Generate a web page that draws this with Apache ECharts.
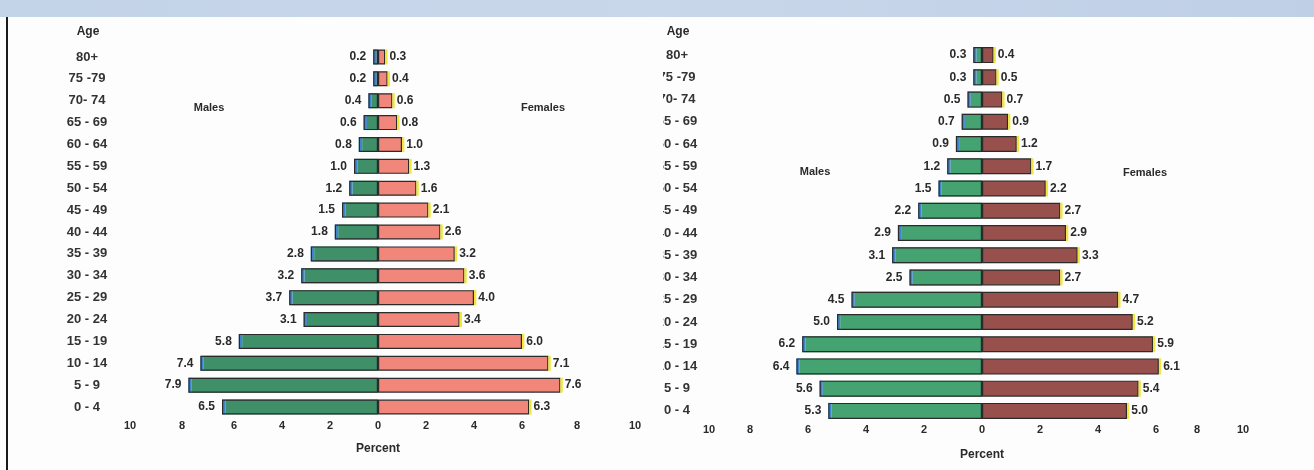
<!DOCTYPE html>
<html><head><meta charset="utf-8">
<script src="https://cdn.jsdelivr.net/npm/echarts@6/dist/echarts.min.js"></script>
<style>html,body{margin:0;padding:0;background:#fff}#c{width:1314px;height:470px}</style>
</head><body><div id="c"></div>
<script>
// ---- data ----
const ageGroups = ["80+", "75 -79", "70- 74", "65 - 69", "60 - 64", "55 - 59", "50 - 54", "45 - 49", "40 - 44", "35 - 39", "30 - 34", "25 - 29", "20 - 24", "15 - 19", "10 - 14", "5 - 9", "0 - 4"];
const leftMales   = [0.2, 0.2, 0.4, 0.6, 0.8, 1.0, 1.2, 1.5, 1.8, 2.8, 3.2, 3.7, 3.1, 5.8, 7.4, 7.9, 6.5];
const leftFemales = [0.3, 0.4, 0.6, 0.8, 1.0, 1.3, 1.6, 2.1, 2.6, 3.2, 3.6, 4.0, 3.4, 6.0, 7.1, 7.6, 6.3];
const rightMales   = [0.3, 0.3, 0.5, 0.7, 0.9, 1.2, 1.5, 2.2, 2.9, 3.1, 2.5, 4.5, 5.0, 6.2, 6.4, 5.6, 5.3];
const rightFemales = [0.4, 0.5, 0.7, 0.9, 1.2, 1.7, 2.2, 2.7, 2.9, 3.3, 2.7, 4.7, 5.2, 5.9, 6.1, 5.4, 5.0];
const axisMin = -10, axisMax = 10, axisStep = 2;
const axisTitle = "Percent";
const ageTitle = "Age";
const maleTitle = "Males", femaleTitle = "Females";

// ---- styling ----
const FONT = "'Liberation Sans', Arial, sans-serif";
const TXT = "#2a2a2a";

function labelShiftRich(shifts) {
  const rich = {};
  Object.keys(shifts).forEach(k => {
    const s = shifts[k];
    const key = 'v' + String(k).replace('-', 'm');
    rich[key] = { padding: s > 0 ? [0, 0, 0, 2 * s] : [0, -2 * s, 0, 0],
      fontFamily: FONT, fontWeight: 'bold', fontSize: 11, color: TXT };
  });
  return rich;
}
function tickFormatter(shifts) {
  return v => {
    const t = String(Math.abs(v));
    if (shifts[v] !== undefined) return '{v' + String(v).replace('-', 'm') + '|' + t + '}';
    return t;
  };
}

function makeX(gridIndex, shifts, nameGap) {
  return {
    type: 'value', gridIndex, min: axisMin, max: axisMax, interval: axisStep,
    axisLine: { show: false }, axisTick: { show: false }, splitLine: { show: false },
    axisLabel: { margin: 2, fontFamily: FONT, fontWeight: 'bold', fontSize: 11, color: TXT,
      formatter: tickFormatter(shifts), rich: labelShiftRich(shifts) },
    name: axisTitle, nameLocation: 'middle', nameGap,
    nameTextStyle: { fontFamily: FONT, fontWeight: 'bold', fontSize: 12, color: TXT }
  };
}
function makeY(gridIndex, margin) {
  return {
    type: 'category', gridIndex, data: ageGroups, inverse: true,
    axisLine: { show: false }, axisTick: { show: false }, splitLine: { show: false },
    axisLabel: { align: 'center', margin, fontFamily: FONT, fontWeight: 'bold', fontSize: 13, color: '#333' }
  };
}

function makeSeries(idx, males, females, sl, green, fem, barW) {
  const common = { type: 'bar', xAxisIndex: idx, yAxisIndex: idx, barWidth: barW, barGap: '-100%', animation: false };
  const lbl = { fontFamily: FONT, fontWeight: 'bold', fontSize: 12, color: TXT };
  return [
    Object.assign({}, common, { stack: 's' + idx, data: males.map(v => -(v - Math.min(sl, v * 0.8))),
      itemStyle: { color: green } }),
    Object.assign({}, common, { stack: 's' + idx, data: males.map(v => -Math.min(sl, v * 0.8)),
      itemStyle: { color: '#3b86cf' },
      label: Object.assign({ show: true, position: 'left', distance: 7,
        formatter: p => males[p.dataIndex].toFixed(1) }, lbl) }),
    Object.assign({}, common, { stack: 's' + idx, data: females.slice(),
      itemStyle: { color: fem, borderColor: '#2b2b2b', borderWidth: 1.2 } }),
    Object.assign({}, common, { stack: 's' + idx, data: females.map(() => sl * 0.7),
      itemStyle: { color: '#eee83c' },
      label: Object.assign({ show: true, position: 'right', distance: 2,
        formatter: p => females[p.dataIndex].toFixed(1) }, lbl) }),
    Object.assign({}, common, { z: 3, data: males.map(v => -v),
      itemStyle: { color: 'rgba(0,0,0,0)', borderColor: '#2b2b2b', borderWidth: 1.2 } })
  ];
}

const chart = echarts.init(document.getElementById('c'), null, { renderer: 'canvas' });
const textStyle = (t, x, y, size) => ({ type: 'text', x, y, z: 10,
  style: { text: t, x: 0, y: 0, align: 'center', verticalAlign: 'middle',
    font: 'bold ' + size + 'px ' + FONT, fill: TXT } });

chart.setOption({
  backgroundColor: '#fdfdfd',
  animation: false,
  grid: [
    { left: 138, width: 480, top: 46, height: 372 },
    { left: 692, width: 580, top: 44, height: 378 }
  ],
  xAxis: [ makeX(0, { '-10': -8, '-8': -4, '8': 7, '10': 17 }, 25),
           makeX(1, { '-10': 17, '8': -17, '10': -29 }, 27) ],
  yAxis: [ makeY(0, 51), makeY(1, 15) ],
  series: [].concat(
    makeSeries(0, leftMales, leftFemales, 0.14, '#3f9068', '#f0877a', 15),
    makeSeries(1, rightMales, rightFemales, 0.11, '#45a271', '#97504c', 16)
  ),
  graphic: [
    { type: 'rect', shape: { x: 0, y: 0, width: 1314, height: 17 }, z: 20,
      style: { fill: new echarts.graphic.LinearGradient(0, 0, 1, 0, [
        { offset: 0, color: '#c3d3e8' }, { offset: 0.5, color: '#c9d7ea' }, { offset: 1, color: '#bfcfe6' }]) } },
    { type: 'rect', shape: { x: 6, y: 17, width: 2, height: 453 }, z: 20, style: { fill: '#1a1a1a' } },
    { type: 'rect', shape: { x: 640, y: 64, width: 23, height: 356 }, z: 20, style: { fill: '#fdfdfd' } },
    textStyle(ageTitle, 88, 32, 12),
    textStyle(ageTitle, 678, 32, 12),
    textStyle(maleTitle, 209, 108, 11),
    textStyle(femaleTitle, 543, 108, 11),
    textStyle(maleTitle, 815, 172, 11),
    textStyle(femaleTitle, 1145, 173, 11)
  ]
});
</script></body></html>
